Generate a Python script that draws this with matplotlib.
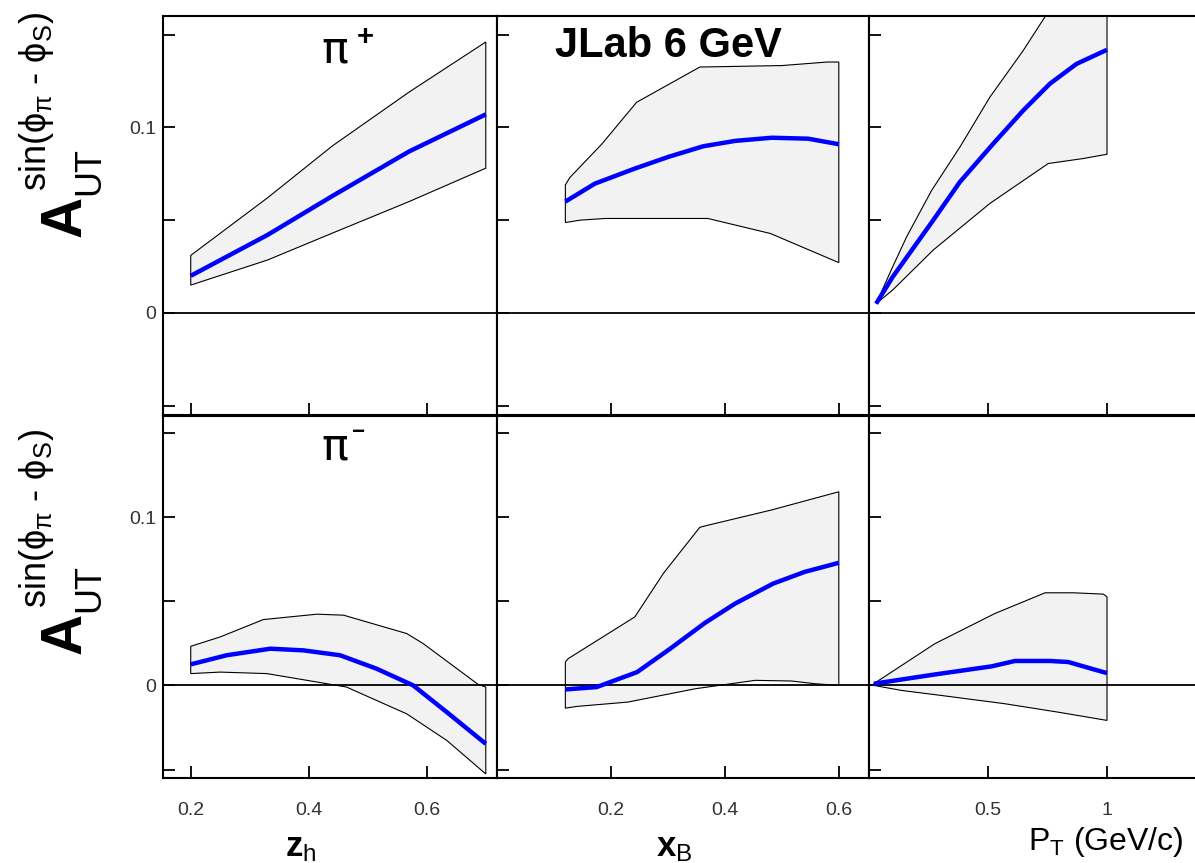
import numpy as np
import matplotlib
matplotlib.use('Agg')
import matplotlib.pyplot as plt
from matplotlib.ticker import FixedLocator, FixedFormatter

plt.rcParams['font.family'] = ['Liberation Sans', 'DejaVu Sans']
plt.rcParams['mathtext.fontset'] = 'custom'
plt.rcParams['mathtext.rm'] = 'Liberation Sans'
plt.rcParams['mathtext.it'] = 'Liberation Sans'
plt.rcParams['mathtext.bf'] = 'Liberation Sans:bold'
plt.rcParams['mathtext.fallback'] = 'stixsans'

# ---- pi+ : z_h ----
zh_pp_up_x = [0.2, 0.33, 0.44, 0.57, 0.7]
zh_pp_up_y = [0.031, 0.062, 0.090, 0.119, 0.146]
zh_pp_lo_x = [0.2, 0.33, 0.44, 0.57, 0.7]
zh_pp_lo_y = [0.015, 0.0285, 0.043, 0.060, 0.078]
zh_pp_c_x = [0.2, 0.33, 0.44, 0.57, 0.7]
zh_pp_c_y = [0.020, 0.042, 0.063, 0.087, 0.107]

# ---- pi+ : x_B ----
xb_pp_up_x = [0.12, 0.128, 0.184, 0.245, 0.356, 0.50, 0.58, 0.60]
xb_pp_up_y = [0.069, 0.073, 0.091, 0.1135, 0.1325, 0.1333, 0.1352, 0.1352]
xb_pp_lo_x = [0.12, 0.146, 0.19, 0.37, 0.48, 0.60]
xb_pp_lo_y = [0.0487, 0.050, 0.0509, 0.0509, 0.0428, 0.0271]
xb_pp_c_x = [0.12, 0.172, 0.242, 0.301, 0.362, 0.418, 0.482, 0.546, 0.6]
xb_pp_c_y = [0.060, 0.0697, 0.0778, 0.0841, 0.0898, 0.0927, 0.0944, 0.0939, 0.0909]

# ---- pi+ : P_T ----
pt_pp_up_x = [0.03, 0.10, 0.158, 0.263, 0.382, 0.508, 0.648, 0.74, 1.0]
pt_pp_up_y = [0.005, 0.025, 0.041, 0.066, 0.0894, 0.1163, 0.1414, 0.1597, 0.200]
pt_pp_lo_x = [0.03, 0.10, 0.27, 0.508, 0.753, 0.90, 1.0]
pt_pp_lo_y = [0.005, 0.0124, 0.0339, 0.059, 0.0805, 0.0832, 0.0855]
pt_pp_c_x = [0.03, 0.10, 0.27, 0.382, 0.522, 0.648, 0.76, 0.872, 1.0]
pt_pp_c_y = [0.005, 0.0195, 0.050, 0.0706, 0.0912, 0.1091, 0.1235, 0.1342, 0.1418]

# ---- pi- : z_h ----
zh_pm_up_x = [0.2, 0.25, 0.323, 0.414, 0.459, 0.566, 0.594, 0.687, 0.7]
zh_pm_up_y = [0.0232, 0.0288, 0.0391, 0.0423, 0.0417, 0.0308, 0.0248, 0.0006, -0.001]
zh_pm_lo_x = [0.2, 0.25, 0.329, 0.414, 0.464, 0.566, 0.634, 0.7]
zh_pm_lo_y = [0.007, 0.0079, 0.007, 0.002, -0.001, -0.0169, -0.0327, -0.0526]
zh_pm_c_x = [0.2, 0.261, 0.335, 0.391, 0.453, 0.515, 0.577, 0.634, 0.7]
zh_pm_c_y = [0.0125, 0.0179, 0.0218, 0.0208, 0.0179, 0.0099, 0.0, -0.0159, -0.0347]

# ---- pi- : x_B ----
xb_pm_up_x = [0.12, 0.125, 0.242, 0.292, 0.356, 0.371, 0.482, 0.6]
xb_pm_up_y = [0.0139, 0.0159, 0.0407, 0.0665, 0.0939, 0.0952, 0.1042, 0.115]
xb_pm_lo_x = [0.12, 0.14, 0.23, 0.348, 0.453, 0.517, 0.558, 0.6]
xb_pm_lo_y = [-0.0135, -0.0125, -0.0099, -0.002, 0.003, 0.0026, 0.001, 0.0]
xb_pm_c_x = [0.12, 0.175, 0.246, 0.304, 0.365, 0.418, 0.485, 0.54, 0.6]
xb_pm_c_y = [-0.0024, -0.001, 0.0079, 0.0218, 0.0371, 0.0486, 0.0605, 0.0674, 0.0728]

# ---- pi- : P_T ----
pt_pm_up_x = [0.02, 0.277, 0.529, 0.74, 0.86, 0.985, 1.0]
pt_pm_up_y = [0.001, 0.0248, 0.0427, 0.055, 0.055, 0.0542, 0.0526]
pt_pm_lo_x = [0.02, 0.137, 0.305, 0.571, 0.795, 1.0]
pt_pm_lo_y = [0.0, -0.003, -0.006, -0.0109, -0.0159, -0.0208]
pt_pm_c_x = [0.02, 0.277, 0.515, 0.613, 0.76, 0.837, 0.935, 1.0]
pt_pm_c_y = [0.001, 0.0065, 0.0113, 0.0145, 0.0145, 0.0139, 0.0099, 0.0073]

W, H = 1195, 863
fig = plt.figure(figsize=(W / 100, H / 100), dpi=100)

# panel edges in pixels: columns (left, right), rows (top, bottom)
cols = [(163, 497), (497, 869), (869, 1226)]
rows = [(16, 415), (416, 778)]
xlims = [(0.153, 0.719), (0.0, 0.653), (0.0, 1.5)]
xticks = [[0.2, 0.4, 0.6], [0.2, 0.4, 0.6], [0.5, 1.0]]
xticklabels = [['0.2', '0.4', '0.6'], ['0.2', '0.4', '0.6'], ['0.5', '1']]
yticks = [-0.05, 0.0, 0.05, 0.1, 0.15]
yticklabels = ['', '0', '', '0.1', '']

bands = [
    [(zh_pp_up_x, zh_pp_up_y, zh_pp_lo_x, zh_pp_lo_y, zh_pp_c_x, zh_pp_c_y),
     (xb_pp_up_x, xb_pp_up_y, xb_pp_lo_x, xb_pp_lo_y, xb_pp_c_x, xb_pp_c_y),
     (pt_pp_up_x, pt_pp_up_y, pt_pp_lo_x, pt_pp_lo_y, pt_pp_c_x, pt_pp_c_y)],
    [(zh_pm_up_x, zh_pm_up_y, zh_pm_lo_x, zh_pm_lo_y, zh_pm_c_x, zh_pm_c_y),
     (xb_pm_up_x, xb_pm_up_y, xb_pm_lo_x, xb_pm_lo_y, xb_pm_c_x, xb_pm_c_y),
     (pt_pm_up_x, pt_pm_up_y, pt_pm_lo_x, pt_pm_lo_y, pt_pm_c_x, pt_pm_c_y)],
]

for r, (top, bot) in enumerate(rows):
    for c, (left, right) in enumerate(cols):
        ax = fig.add_axes([left / W, 1 - bot / H, (right - left) / W, (bot - top) / H])
        ux, uy, lx, ly, cx, cy = bands[r][c]
        # closed band: upper edge left to right, then lower edge back
        px = list(ux) + list(lx)[::-1]
        py = list(uy) + list(ly)[::-1]
        ax.fill(px, py, facecolor='#f2f2f2', edgecolor='black', lw=0.8, zorder=1)
        ax.axhline(0, color='black', lw=1.3, zorder=2)
        ax.plot(cx, cy, color='#0000ff', lw=3.2, zorder=3, solid_capstyle='butt')
        ax.set_xlim(xlims[c])
        ax.set_ylim(-0.055, 0.16)
        ax.xaxis.set_major_locator(FixedLocator(xticks[c]))
        ax.yaxis.set_major_locator(FixedLocator(yticks))
        if r == 1:
            ax.xaxis.set_major_formatter(FixedFormatter(xticklabels[c]))
        else:
            ax.set_xticklabels([])
        if c == 0:
            ax.yaxis.set_major_formatter(FixedFormatter(yticklabels))
        else:
            ax.set_yticklabels([])
        ax.tick_params(direction='in', length=8.5, width=1.3, labelsize=14,
                       labelcolor='#333333')
        ax.tick_params(axis='x', pad=17)
        ax.tick_params(axis='y', pad=5)
        for s in ax.spines.values():
            s.set_linewidth(1.5)


def fig_text(x, y, s, **kw):
    fig.text(x / W, 1 - y / H, s, **kw)


# rotated y-axis labels
for ya in (216, 633):
    fig_text(66, ya, 'A', rotation=90, fontsize=41, fontweight='bold',
             ha='center', va='center')
    fig_text(90, ya - 45, 'UT', rotation=90, fontsize=26, ha='center', va='center')
    fig_text(37, ya - 114, r'sin($\phi_{\pi}$ - $\phi_{S}$)', rotation=90,
             fontsize=26, ha='center', va='center')

# x-axis titles
fig_text(301, 847, r'$\mathbf{z}_{\mathrm{h}}$', fontsize=25, ha='center', va='center')
fig_text(674, 847, r'$\mathbf{x}_{\mathrm{B}}$', fontsize=25, ha='center', va='center')
fig_text(1183, 842, r'P$_{\mathrm{T}}$ (GeV/c)', fontsize=23, ha='right', va='center')

# panel annotations
fig_text(555, 46, 'JLab 6 GeV', fontsize=30, fontweight='bold', ha='left', va='center')
fig_text(335, 50, 'π', fontsize=32, family=['DejaVu Sans'], ha='center', va='center')
fig_text(365, 37, '+', fontsize=21, fontweight='bold', ha='center', va='center')
fig_text(335, 447, 'π', fontsize=32, family=['DejaVu Sans'], ha='center', va='center')
fig_text(358, 432, '−', fontsize=16, fontweight='bold', ha='center', va='center')

fig.savefig('out.png', dpi=100)
